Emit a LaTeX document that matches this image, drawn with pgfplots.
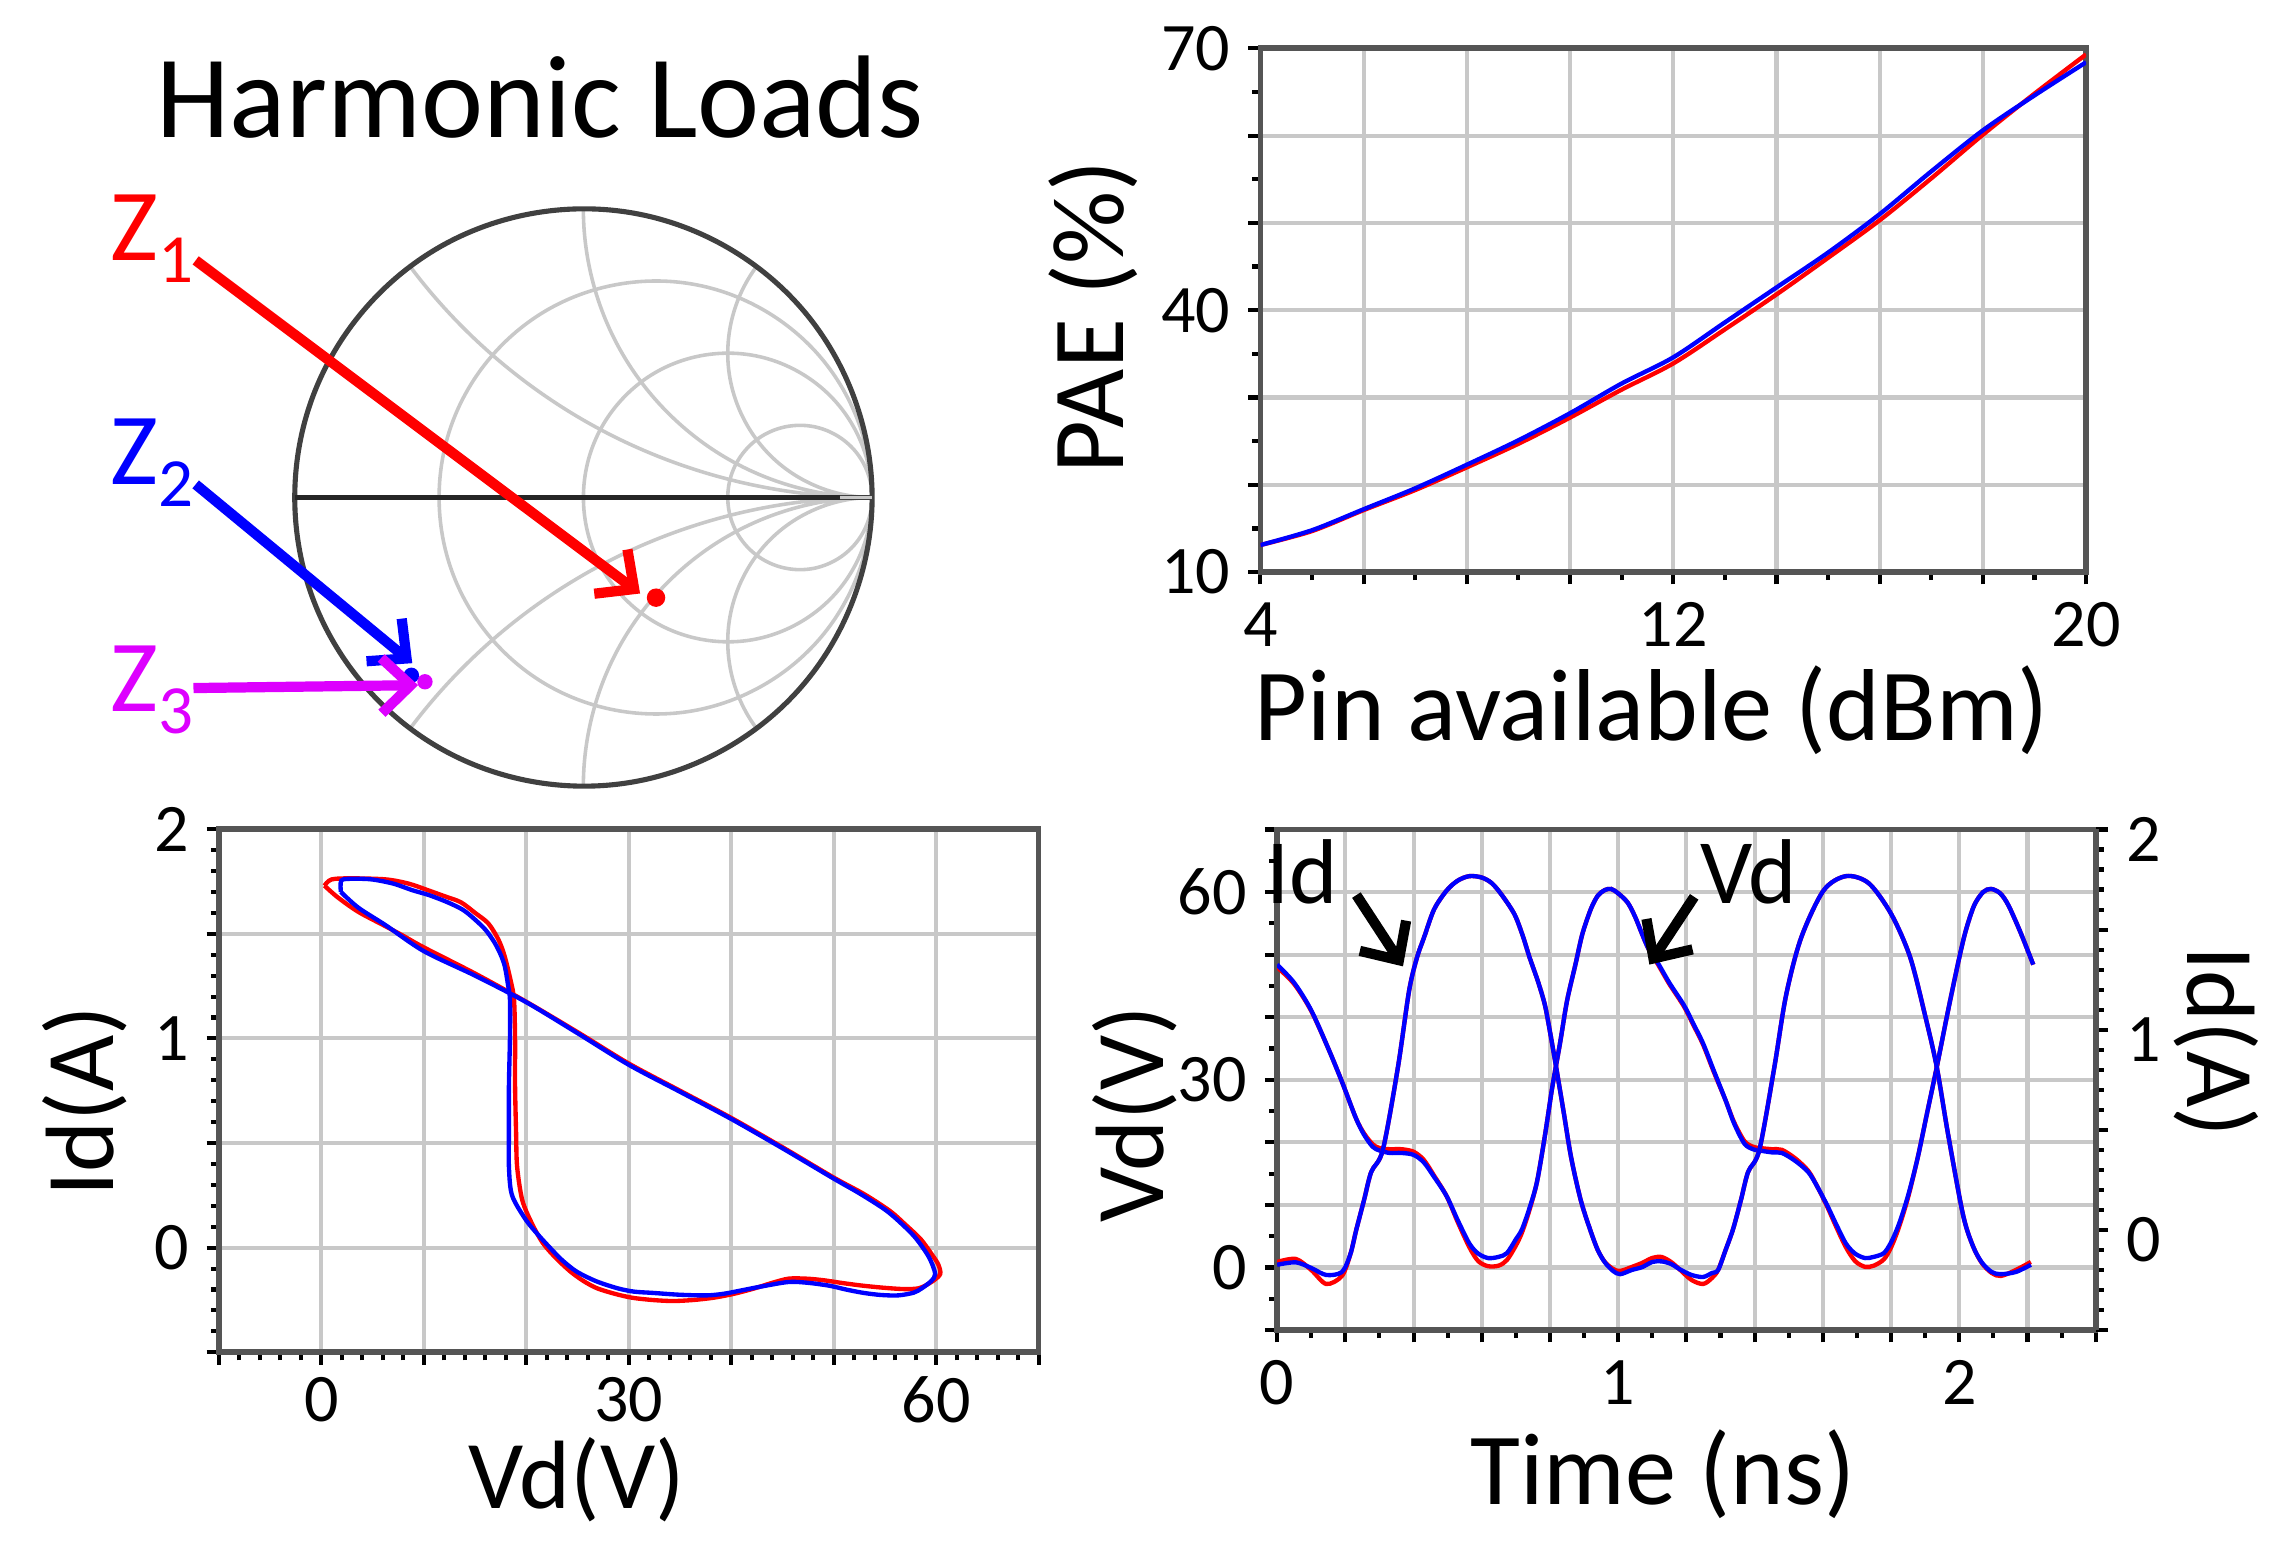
\documentclass[border=0pt]{standalone}
\usepackage{pgfplots}
\pgfplotsset{compat=1.18}
\usepgfplotslibrary{smithchart}
\usetikzlibrary{arrows.meta}
\usepackage{fontspec}
\setmainfont{Carlito}
\definecolor{zred}{RGB}{255,0,0}
\definecolor{zblue}{RGB}{0,0,255}
\definecolor{zmag}{RGB}{221,0,255}
\definecolor{gridgray}{RGB}{200,200,200}
\definecolor{axgray}{RGB}{85,85,85}
\pgfplotsset{
  panel/.style={
    scale only axis,
    anchor=south west,
    axis line style={axgray, line width=1.1pt},
    tick align=outside,
    tick style={black, line width=0.8pt},
    major tick length=0.085cm,
    minor tick length=0.055cm,
    xtick pos=bottom, ytick pos=left,
    grid=major,
    major grid style={gridgray, line width=0.8pt},
    tick label style={font=\fontsize{13.3}{14}\selectfont},
    /pgf/number format/assume math mode=true,
  },
  rc/.style={zred, line width=0.85pt, smooth, tension=0.5, no markers},
  bc/.style={zblue, line width=0.85pt, smooth, tension=0.5, no markers},
}
\tikzset{bigarrow/.style={line width=2pt, -{Straight Barb[length=0.2cm, width=0.38cm]}}}
\newcommand{\labfont}{\fontsize{20}{22}\selectfont}
\newcommand{\labfontb}{\fontsize{19}{21}\selectfont}
\begin{document}
\begin{tikzpicture}
\path[use as bounding box] (0,0) rectangle (15.68,10.63);

% ---------------- Smith chart ----------------
\begin{smithchart}[
  at={(4.01cm,7.21cm)}, anchor=center,
  scale only axis, width=3.97cm,
  xtick={0.3333,1,3},
  ytick={-2,-1,-0.5,0.5,1,2},
  xticklabels={}, yticklabels={},
  major tick length=0pt,
  major grid style={gridgray, line width=0.7pt},
  axis line style={black!75, line width=1pt},
]
\addplot[only marks, mark=*, mark size=1.6pt, zred] coordinates {(1.20,-1.02)};
\addplot[only marks, mark=*, mark size=1.3pt, zmag] coordinates {(0.104,-0.455)};
\addplot[only marks, mark=*, mark size=1.3pt, zblue] coordinates {(0.091,-0.421)};
\end{smithchart}
\draw[black!85, line width=0.9pt] (4.01-1.985,7.21) -- (4.01+0.89*1.985,7.21);
\draw[gridgray, line width=0.7pt] (4.01+0.89*1.985,7.21) -- (4.01+1.985,7.21);

\node[anchor=base west, inner sep=0, font=\fontsize{23}{26}\selectfont] at (1.07,9.684) {Harmonic Loads};
\node[anchor=base west, inner sep=0, text=zred, font=\labfont] at (0.75,8.84) {Z\raisebox{-0.155cm}{\fontsize{13.5}{14}\selectfont 1}};
\node[anchor=base west, inner sep=0, text=zblue, font=\labfont] at (0.75,7.30) {Z\raisebox{-0.155cm}{\fontsize{13.5}{14}\selectfont 2}};
\node[anchor=base west, inner sep=0, text=zmag, font=\labfont] at (0.75,5.74) {Z\raisebox{-0.155cm}{\fontsize{13.5}{14}\selectfont 3}};
\draw[zred, bigarrow] (1.345,8.84) -- (4.40,6.55);
\draw[zblue, bigarrow] (1.345,7.30) -- (2.834,6.071);
\draw[zmag, bigarrow] (1.33,5.90) -- (2.874,5.92);

% ---------------- PAE ----------------
\begin{axis}[panel,
  at={(8.664cm,6.697cm)}, width=5.676cm, height=3.601cm,
  xmin=4, xmax=20, ymin=10, ymax=70,
  xtick={4,6,...,20}, xticklabels={4,,,,12,,,,20},
  ytick={10,20,...,70}, yticklabels={10,,,40,,,70},
  minor x tick num=1, minor y tick num=1,
]
\addplot[rc] coordinates {(4,13.1) (5,14.7) (6,17.1) (7,19.4) (8,22.0) (9,24.7) (10,27.7) (11,30.9) (12,33.9) (13,37.8) (14,41.8) (15,46.0) (16,50.3) (17,55.1) (18,60.1) (19,64.8) (20,69.3)};
\addplot[bc] coordinates {(4,13.1) (5,14.8) (6,17.2) (7,19.6) (8,22.3) (9,25.1) (10,28.2) (11,31.6) (12,34.6) (13,38.6) (14,42.6) (15,46.6) (16,51.0) (17,55.9) (18,60.6) (19,64.6) (20,68.4)};
\end{axis}
\node[rotate=90, anchor=base, font=\labfont] at (7.72,8.45) {PAE (\%)};
\node[anchor=base, font=\labfont] at (11.356,5.54) {Pin available (dBm)};

% ---------------- IV loop ----------------
\begin{axis}[panel,
  at={(1.505cm,1.334cm)}, width=5.635cm, height=3.596cm,
  xmin=-10, xmax=70, ymin=-0.5, ymax=2,
  xtick={-10,0,...,70}, xticklabels={,0,,,30,,,60,},
  ytick={-0.5,0,0.5,1,1.5,2}, yticklabels={,0,,1,,2},
  minor x tick num=4, minor y tick num=4,
  xticklabel style={yshift=0.04cm},
]
\addplot[rc] coordinates {(0.3,1.73) (1.0,1.76) (3,1.765) (6.3,1.76) (8.5,1.74) (10.3,1.71) (12,1.68) (13.6,1.651) (15,1.60) (16.3,1.549) (17.3,1.47) (17.9,1.39) (18.5,1.27) (18.8,1.185) (18.9,1.0) (18.9,0.774) (19.0,0.55) (19.1,0.387) (19.6,0.228) (20.5,0.12) (21.6,0.023) (22.9,-0.05) (24.3,-0.114) (25.6,-0.16) (26.9,-0.194) (28.6,-0.22) (30.3,-0.239) (32.3,-0.25) (34.3,-0.255) (36.3,-0.25) (38.3,-0.239) (40.3,-0.22) (42.3,-0.194) (44,-0.168) (45.6,-0.148) (47.3,-0.148) (48.9,-0.155) (51,-0.17) (52.9,-0.182) (55,-0.192) (56.9,-0.198) (58.2,-0.195) (58.9,-0.182) (59.8,-0.155) (60.4,-0.125) (60.2,-0.08) (59.6,-0.034) (58.5,0.04) (57,0.11) (55.5,0.175) (53,0.255) (50,0.335) (45,0.48) (40,0.62) (35,0.75) (30,0.88) (25,1.03) (20,1.175) (15,1.31) (10,1.435) (8,1.49) (6.3,1.535) (3.6,1.605) (1.6,1.674) (0.3,1.73)};
\addplot[bc] coordinates {(1.9,1.70) (1.95,1.755) (3,1.763) (4.9,1.76) (7,1.74) (8.9,1.708) (10.5,1.685) (12.3,1.651) (13.8,1.615) (14.9,1.572) (16,1.52) (16.9,1.458) (17.5,1.40) (17.9,1.344) (18.2,1.26) (18.4,1.185) (18.4,1.0) (18.3,0.774) (18.3,0.55) (18.3,0.387) (18.6,0.251) (19.9,0.137) (21,0.07) (22.3,0) (23.5,-0.06) (24.9,-0.114) (26.8,-0.16) (28.9,-0.194) (30.5,-0.21) (32.3,-0.216) (35,-0.225) (37.6,-0.228) (39.3,-0.22) (40.9,-0.205) (43,-0.185) (45.6,-0.164) (47.5,-0.168) (49.6,-0.182) (51.2,-0.2) (52.9,-0.216) (54.6,-0.226) (56.3,-0.228) (57.8,-0.215) (58.6,-0.194) (59.5,-0.16) (59.9,-0.125) (59.3,-0.046) (58,0.046) (56.5,0.12) (55,0.182) (52.5,0.26) (50,0.33) (45,0.475) (40,0.615) (35,0.745) (30,0.874) (25,1.025) (20,1.173) (15,1.30) (10,1.417) (6.3,1.54) (3.6,1.625) (1.9,1.70)};
\end{axis}
\node[rotate=90, anchor=base, font=\labfontb] at (0.78,3.06) {Id(A)};
\node[anchor=base, font=\labfontb] at (3.965,0.26) {Vd(V)};

% ---------------- Time domain ----------------
\begin{axis}[panel,
  at={(8.779cm,1.487cm)}, width=5.627cm, height=3.441cm,
  xmin=0, xmax=2.4, ymin=-10, ymax=70,
  xtick={0,0.2,0.4,0.6,0.8,1,1.2,1.4,1.6,1.8,2,2.2,2.4}, xticklabels={0,,,,,1,,,,,2,,},
  ytick={-10,0,...,70}, yticklabels={,0,,,30,,,60,},
  minor x tick num=1, minor y tick num=1,
]
\addplot[rc] coordinates {(0,48.0) (0.05,45.3) (0.1,41.0) (0.15,35) (0.19,29.7) (0.23,24) (0.254,21.5) (0.28,19.7) (0.3,19.1) (0.33,18.9) (0.365,18.9) (0.4,18.5) (0.43,17.2) (0.46,14.7) (0.497,11.4) (0.53,7.2) (0.564,3.2) (0.59,1.0) (0.619,0.2) (0.65,0.3) (0.674,1.2) (0.7,3.5) (0.718,5.6) (0.74,9.2) (0.762,13.7) (0.785,21) (0.807,28.9) (0.83,36) (0.85,42.6) (0.875,48.5) (0.895,53.3) (0.92,57.3) (0.94,59.4) (0.96,60.3) (0.979,60.5) (1.0,59.8) (1.028,58.3) (1.05,56) (1.07,53.3) (1.09,50.8) (1.116,48.5) (1.15,45.3) (1.193,41.7) (1.22,38.8) (1.249,35.6) (1.28,31.3) (1.315,26.7) (1.34,23.2) (1.37,20.2) (1.395,19.3) (1.414,19.1) (1.45,18.9) (1.48,18.8) (1.52,17.4) (1.558,15.4) (1.585,12.8) (1.613,9.7) (1.64,6.4) (1.668,3.2) (1.695,1.0) (1.724,0.1) (1.75,0.3) (1.779,1.3) (1.8,3.2) (1.823,6.4) (1.85,11.2) (1.878,17.5) (1.905,24.5) (1.934,32) (1.967,41) (2.0,49.5) (2.02,54) (2.044,57.9) (2.07,60) (2.093,60.5) (2.12,59.8) (2.144,57.9) (2.18,53.5) (2.217,48.4)};
\addplot[bc] coordinates {(0,48.4) (0.05,45.5) (0.1,41.1) (0.15,35) (0.19,29.7) (0.23,24) (0.254,21.3) (0.28,19.3) (0.3,18.7) (0.33,18.3) (0.365,18.3) (0.4,18.0) (0.43,16.8) (0.46,14.5) (0.497,11.4) (0.53,7.5) (0.564,3.8) (0.59,2.2) (0.619,1.5) (0.65,1.7) (0.674,2.3) (0.7,4.5) (0.718,6.1) (0.74,9.5) (0.762,13.7) (0.785,21) (0.807,28.9) (0.83,36) (0.85,42.6) (0.875,48.5) (0.895,53.3) (0.92,57.3) (0.94,59.4) (0.96,60.3) (0.979,60.5) (1.0,59.8) (1.028,58.3) (1.05,56) (1.07,53.3) (1.09,50.8) (1.116,48.7) (1.15,45.5) (1.193,41.9) (1.22,39) (1.249,35.8) (1.28,31.5) (1.315,26.7) (1.34,23) (1.37,19.8) (1.395,18.9) (1.414,18.7) (1.45,18.4) (1.48,18.3) (1.52,17) (1.558,15.2) (1.585,12.8) (1.613,9.9) (1.64,6.8) (1.668,3.8) (1.695,2.2) (1.724,1.5) (1.75,1.7) (1.779,2.3) (1.8,4) (1.823,6.9) (1.85,11.5) (1.878,17.5) (1.905,24.5) (1.934,32) (1.967,41) (2.0,49.5) (2.02,54) (2.044,57.9) (2.07,60) (2.093,60.5) (2.12,59.8) (2.144,57.9) (2.18,53.5) (2.217,48.4)};
\end{axis}
\begin{axis}[
  scale only axis, anchor=south west,
  at={(8.779cm,1.487cm)}, width=5.627cm, height=3.441cm,
  xmin=0, xmax=2.4, ymin=-0.5, ymax=2,
  axis x line=none, axis y line*=right,
  axis line style={axgray, line width=1.1pt},
  tick align=outside,
  tick style={black, line width=0.8pt},
  major tick length=0.085cm, minor tick length=0.055cm,
  ytick={-0.5,0,0.5,1,1.5,2}, yticklabels={,0,,1,,2},
  minor y tick num=4,
  tick label style={font=\fontsize{13.3}{14}\selectfont},
  yticklabel style={yshift=-0.07cm},
  /pgf/number format/assume math mode=true,
]
\addplot[rc] coordinates {(0,-0.16) (0.055,-0.145) (0.1,-0.2) (0.144,-0.27) (0.19,-0.23) (0.215,-0.12) (0.232,0.0) (0.255,0.15) (0.276,0.29) (0.31,0.40) (0.354,0.81) (0.387,1.195) (0.41,1.36) (0.43,1.457) (0.46,1.6) (0.497,1.695) (0.53,1.745) (0.564,1.767) (0.60,1.76) (0.63,1.731) (0.66,1.67) (0.696,1.576) (0.72,1.47) (0.74,1.362) (0.765,1.24) (0.785,1.124) (0.80,0.99) (0.818,0.814) (0.84,0.59) (0.862,0.362) (0.89,0.15) (0.917,0.005) (0.94,-0.1) (0.961,-0.16) (0.985,-0.195) (1.006,-0.205) (1.04,-0.185) (1.07,-0.165) (1.10,-0.14) (1.127,-0.135) (1.155,-0.16) (1.182,-0.2) (1.215,-0.25) (1.249,-0.27) (1.275,-0.24) (1.293,-0.2) (1.315,-0.1) (1.337,0.005) (1.36,0.15) (1.381,0.29) (1.414,0.40) (1.458,0.814) (1.492,1.17) (1.536,1.457) (1.602,1.695) (1.668,1.767) (1.735,1.731) (1.801,1.576) (1.856,1.362) (1.90,1.07) (1.934,0.814) (1.967,0.48) (2.011,0.076) (2.04,-0.08) (2.066,-0.165) (2.095,-0.215) (2.122,-0.23) (2.166,-0.2) (2.21,-0.16)};
\addplot[bc] coordinates {(0,-0.174) (0.055,-0.162) (0.1,-0.19) (0.144,-0.225) (0.19,-0.21) (0.215,-0.12) (0.232,0.0) (0.255,0.15) (0.276,0.29) (0.31,0.40) (0.354,0.81) (0.387,1.195) (0.41,1.36) (0.43,1.457) (0.46,1.6) (0.497,1.695) (0.53,1.745) (0.564,1.767) (0.60,1.76) (0.63,1.731) (0.66,1.67) (0.696,1.576) (0.72,1.47) (0.74,1.362) (0.765,1.24) (0.785,1.124) (0.80,0.99) (0.818,0.814) (0.84,0.59) (0.862,0.362) (0.89,0.15) (0.917,0.005) (0.94,-0.1) (0.961,-0.162) (0.985,-0.205) (1.006,-0.221) (1.04,-0.2) (1.07,-0.186) (1.10,-0.16) (1.127,-0.157) (1.155,-0.17) (1.182,-0.198) (1.215,-0.225) (1.249,-0.235) (1.275,-0.215) (1.293,-0.2) (1.315,-0.1) (1.337,0.005) (1.36,0.15) (1.381,0.29) (1.414,0.40) (1.458,0.814) (1.492,1.17) (1.536,1.457) (1.602,1.695) (1.668,1.767) (1.735,1.731) (1.801,1.576) (1.856,1.362) (1.90,1.07) (1.934,0.814) (1.967,0.48) (2.011,0.076) (2.04,-0.08) (2.066,-0.162) (2.095,-0.21) (2.122,-0.221) (2.166,-0.21) (2.21,-0.174)};
\end{axis}
\node[rotate=90, anchor=base, font=\labfontb] at (8.0,2.97) {Vd(V)};
\node[rotate=-90, anchor=base, font=\labfontb] at (15.04,3.47) {Id(A)};
\node[anchor=base, font=\labfont] at (11.43,0.286) {Time (ns)};
\node[anchor=base west, inner sep=0, font=\fontsize{18}{20}\selectfont] at (8.70,4.416) {Id};
\node[anchor=base west, inner sep=0, font=\fontsize{18}{20}\selectfont] at (11.68,4.416) {Vd};
\draw[black, bigarrow] (9.324,4.477) -- (9.644,3.987);
\draw[black, bigarrow] (11.646,4.465) -- (11.338,3.999);
\end{tikzpicture}
\end{document}
